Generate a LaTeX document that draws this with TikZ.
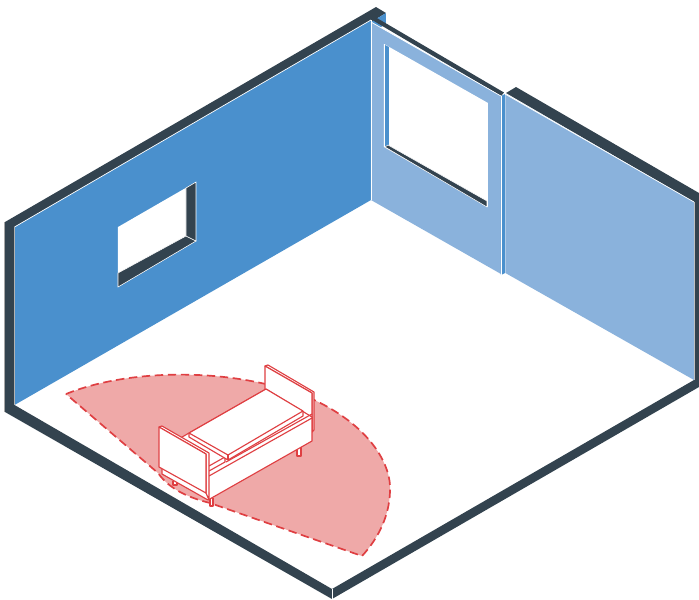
\documentclass[tikz,border=0pt]{standalone}
\definecolor{wallDark}{HTML}{33434F}
\definecolor{wallBlue}{HTML}{4A90CD}
\definecolor{wallLight}{HTML}{8AB2DC}
\definecolor{zonePink}{HTML}{EFA9A8}
\definecolor{zoneRed}{HTML}{DF3F42}
\begin{document}
\begin{tikzpicture}[
    x=0.01cm, y=-0.01cm,
    dark/.style={fill=wallDark, draw=white, line width=0.15pt},
    wall/.style={fill=wallBlue},
    pane/.style={fill=wallLight},
    edge/.style={draw=white, line width=0.2pt},
    sofa/.style={draw=zoneRed, fill=white, line width=0.32pt, line join=round},
    zone/.style={fill=zonePink, draw=zoneRed, line width=0.48pt, dash pattern=on 2.4pt off 1.3pt}
  ]
    \useasboundingbox (0,0) rectangle (699,599);

    % --- Top of the walls and floor rim ---
    \fill[wallDark] (5,222) -- (376,7) -- (386,13) -- (371,22) -- (14.5,227) -- (14.5,405) -- (332,589) -- (694,380) -- (694,202) -- (506,93) -- (516,87) -- (699,193) -- (699,387) -- (332,599) -- (5,412) -- cycle;
    \draw[edge] (332,589) -- (332,599);
    \draw[gray!70, line width=0.2pt] (4.6,222) -- (4.6,412);
    \fill[wall] (371,22) -- (386,13) -- (386,24) -- (371,33) -- cycle;
    \fill[wallDark] (373,20.5) -- (376,17.5) -- (504,92.5) -- (501,96) -- cycle;

    % --- Left wall with window ---
    \fill[wall] (14.5,227) -- (371,20) -- (371,200) -- (14.5,405) -- cycle;
    \draw[edge] (14.5,227) -- (371,20);
    \draw[gray!60, line width=0.25pt] (14.5,227) -- (14.5,405);
    \fill[white] (118,227) -- (196,182) -- (196,241) -- (118,287) -- cycle;
    \draw[dark] (118,273) -- (186,236) -- (196,241) -- (118,287) -- cycle;
    \draw[dark] (186,188) -- (196,182) -- (196,241) -- (186,236) -- cycle;

    % --- Middle wall with window ---
    \fill[pane] (371,22) -- (501,96) -- (501,274) -- (371,200) -- cycle;
    \draw[edge] (371,20) -- (371,200);
    \draw[edge] (371,22) -- (501,96);
    \fill[white] (384,44) -- (488,103) -- (488,207) -- (384,147) -- cycle;
    \fill[wallBlue] (385,45) -- (389,47) -- (389,145) -- (385,147) -- cycle;
    \draw[edge] (384,44) -- (384,147);
    \draw[dark] (385,147) -- (388,145) -- (487,201) -- (487,207) -- cycle;

    % --- Wall end ---
    \fill[wall] (501,96) -- (505,94) -- (505,273) -- (501,275) -- cycle;
    \draw[edge] (501,96) -- (501,275);
    \draw[edge] (505,94) -- (505,273);

    % --- Right wall ---
    \fill[pane] (505.4,94) -- (694,202) -- (694,380) -- (505.4,273) -- cycle;
    \draw[edge] (505,94) -- (694,202);
    \draw[gray!50, line width=0.25pt] (694,202) -- (694,380);

    % --- Zone on the floor ---
    \draw[zone] (66,394) .. controls (130,368) and (235,367) .. (310,398) .. controls (370,425) and (392,465) .. (390,492) .. controls (389,520) and (375,542) .. (362,556) -- (210,503) .. controls (190,498) and (170,490) .. (158,473) -- cycle;

    % --- Sofa legs ---
    \draw[sofa] (173,481) -- (173,485) -- (177,485) -- (177,481);
    \draw[sofa] (210,499) -- (210,506) -- (213,506) -- (213,498);
    \draw[sofa] (297,448) -- (297,456) -- (301,456) -- (301,446);

    % --- Far armrest ---
    \draw[sofa] (265,366) -- (268,365) -- (314,392) -- (314,430) -- (312,432) -- (312,393) -- cycle;
    \draw[sofa] (265,366) -- (312,393) -- (312,432) -- (265,405) -- cycle;

    % --- Base and mattress ---
    \draw[sofa] (162,467) -- (162,474) -- (208,500) -- (312,441) -- (312,417) -- (266,389) -- (189,433) -- (160,450) -- cycle;
    \draw[sofa] (209,476) -- (312,418);
    \draw[sofa] (226,462) -- (312,414);
    \draw[sofa] (209,471) -- (225,462) -- (225,457) -- (209,466);
    \draw[sofa] (189,433) -- (189,437) -- (228,460) -- (303,416) -- (303,411);
    \draw[sofa] (266,389) -- (303,411) -- (228,455) -- (189,433) -- cycle;
    \draw[sofa] (228,455) -- (228,460);

    % --- Near armrest ---
    \draw[sofa] (159,427) -- (162,426) -- (209,453) -- (209,500) -- (206,493) -- (206,454) -- cycle;
    \draw[sofa] (159,427) -- (206,454) -- (206,493) -- (159,467) -- cycle;
  \end{tikzpicture}
\end{document}
